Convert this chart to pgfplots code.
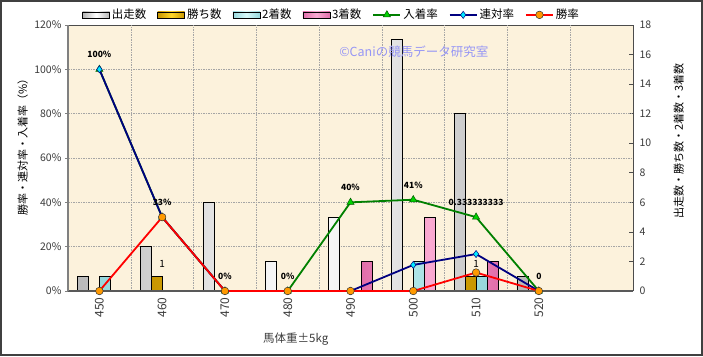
\documentclass[border=0pt]{standalone}
\usepackage{fontspec}
\setmainfont{Noto Sans CJK JP}
\usepackage{pgfplots}
\pgfplotsset{compat=1.18}
\definecolor{bgbeige}{RGB}{252,242,220}
\definecolor{gridgray}{RGB}{165,165,165}
\definecolor{spinegray}{RGB}{128,128,128}
\definecolor{golddark}{RGB}{200,150,0}
\definecolor{goldlight}{RGB}{255,215,40}
\definecolor{cyandark}{RGB}{150,215,220}
\definecolor{cyanlight}{RGB}{215,250,250}
\definecolor{pinkdark}{RGB}{225,110,170}
\definecolor{pinklight}{RGB}{250,170,210}
\definecolor{rategreen}{RGB}{0,128,0}
\definecolor{marklime}{RGB}{0,210,0}
\definecolor{ratenavy}{RGB}{0,0,128}
\definecolor{markcyan}{RGB}{0,235,255}
\definecolor{markorange}{RGB}{255,153,0}
\definecolor{wmark}{RGB}{150,150,245}
\definecolor{ticktext}{RGB}{60,60,60}
\begin{document}
\begin{tikzpicture}
\useasboundingbox (0,0) rectangle (703pt,356pt);
\fill[white] (0,0) rectangle (703pt,356pt);
% ---------- counts axis (right) with bars ----------
\begin{axis}[
  at={(68pt,65pt)}, anchor=south west,
  scale only axis, width=565pt, height=266pt,
  xmin=-0.5, xmax=8.5, ymin=0, ymax=18,
  axis background/.style={fill=bgbeige},
  axis x line*=top, axis y line*=right,
  x axis line style={black!70, line width=0.8pt, -},
  y axis line style={black!70, line width=0.8pt, -},
  xtick=\empty,
  extra x ticks={0.5,1.5,...,7.5},
  extra x tick labels={},
  extra x tick style={grid=major, major tick length=0pt},
  ytick={0,2,...,18},
  tick align=inside, major tick length=4pt,
  tick style={black!70, line width=0.6pt},
  extra y ticks={3,6,9,12,15},
  extra y tick labels={},
  extra y tick style={grid=major, major tick length=0pt},
  major grid style={gridgray, line width=0.5pt, dash pattern=on 1.5pt off 1pt},
  yticklabel style={font=\fontsize{10.5}{12}\selectfont, text=ticktext, xshift=3pt},
  /pgf/number format/assume math mode=true,
  ylabel={出走数・勝ち数・2着数・3着数},
  ylabel style={at={(axis description cs:1.081,0.565)}, anchor=center, font=\fontsize{11}{13}\selectfont},
  clip=false,
]
\addplot[ybar, bar width=0.175, bar shift=-0.2625, draw=black, line width=0.6pt,
  left color=gray!55, right color=gray!55, middle color=white]
  coordinates {(0,1) (1,3) (2,6) (3,2) (4,5) (5,17) (6,12) (7,1)};
\addplot[ybar, bar width=0.175, bar shift=-0.0875, draw=black, line width=0.6pt,
  left color=golddark, right color=golddark, middle color=goldlight,
  nodes near coords, every node near coord/.append style={font=\fontsize{10}{12}\selectfont, text=black, yshift=5pt}]
  coordinates {(1,1) (6,1)};
\addplot[ybar, bar width=0.175, bar shift=0.0875, draw=black, line width=0.6pt,
  left color=cyandark, right color=cyandark, middle color=cyanlight]
  coordinates {(0,1) (5,2) (6,1)};
\addplot[ybar, bar width=0.175, bar shift=0.2625, draw=black, line width=0.6pt,
  left color=pinkdark, right color=pinkdark, middle color=pinklight]
  coordinates {(4,2) (5,5) (6,2)};
\node[text=wmark, font=\fontsize{12.5}{14}\selectfont] at (rel axis cs:0.612,0.898) {©Caniの競馬データ研究室};
\end{axis}
% ---------- rate axis (left) with lines ----------
\begin{axis}[
  at={(68pt,65pt)}, anchor=south west,
  scale only axis, width=565pt, height=266pt,
  xmin=-0.5, xmax=8.5, ymin=0, ymax=120,
  axis x line*=bottom, axis y line*=left,
  x axis line style={black!65, line width=1.6pt, -},
  y axis line style={spinegray, line width=1.6pt, -},
  xtick={0,...,7},
  xticklabels={450,460,470,480,490,500,510,520},
  xtick style={draw=none},
  xticklabel style={rotate=90, anchor=east, font=\fontsize{12}{14}\selectfont, text=ticktext},
  ytick={0,20,...,120},
  yticklabel={\pgfmathprintnumber{\tick}\%},
  ytick style={spinegray, line width=0.6pt},
  tick align=outside, major tick length=3pt,
  yticklabel style={font=\fontsize{10.5}{12}\selectfont, text=ticktext},
  /pgf/number format/assume math mode=true,
  xlabel={馬体重±5kg},
  xlabel style={at={(axis description cs:0.403,-0.18)}, anchor=center, font=\fontsize{11.5}{13}\selectfont, text=ticktext},
  ylabel={勝率・連対率・入着率（\%）},
  ylabel style={at={(axis description cs:-0.08,0.55)}, anchor=center, font=\fontsize{11}{13}\selectfont},
  clip=false,
  legend columns=7,
  legend style={at={(axis description cs:0.025,1.038)}, anchor=west, draw=none, fill=none,
    font=\fontsize{11.5}{13}\selectfont, inner sep=0pt, column sep=0pt,
    nodes={inner xsep=2pt, inner ysep=1pt}},
  legend image code/.code={\draw[mark repeat=2,mark phase=2,#1] plot coordinates {(0pt,0pt) (13.5pt,0pt) (27pt,0pt)};},
]
\addlegendimage{legend image code/.code={\draw[black, line width=0.6pt, left color=gray!60, right color=gray!60, middle color=white] (0pt,-3pt) rectangle (27pt,3pt);}}
\addlegendentry{出走数\hspace*{9pt}}
\addlegendimage{legend image code/.code={\draw[black, line width=0.6pt, left color=golddark, right color=golddark, middle color=goldlight] (0pt,-3pt) rectangle (27pt,3pt);}}
\addlegendentry{勝ち数\hspace*{9pt}}
\addlegendimage{legend image code/.code={\draw[black, line width=0.6pt, left color=cyandark, right color=cyandark, middle color=cyanlight] (0pt,-3pt) rectangle (27pt,3pt);}}
\addlegendentry{2着数\hspace*{9pt}}
\addlegendimage{legend image code/.code={\draw[black, line width=0.6pt, left color=pinkdark, right color=pinkdark, middle color=pinklight] (0pt,-3pt) rectangle (27pt,3pt);}}
\addlegendentry{3着数\hspace*{9pt}}
\addplot[rategreen, line width=1.8pt, mark=triangle*, mark size=4.2pt,
  mark options={fill=marklime, draw=rategreen!70!black, line width=0.5pt},
  nodes near coords, point meta=explicit symbolic,
  every node near coord/.append style={font=\fontsize{8.5}{9}\selectfont\bfseries, text=black, yshift=8pt}]
  coordinates {(0,100)[100\%] (1,33.33)[33\%] (2,0)[0\%] (3,0)[0\%] (4,40)[40\%] (5,41.18)[41\%] (6,33.33)[0.333333333] (7,0)[0]};
\addlegendentry{入着率\hspace*{9pt}}
\addplot[ratenavy, line width=1.8pt, mark=diamond*, mark size=3.6pt,
  mark options={fill=markcyan, draw=ratenavy, line width=0.5pt}]
  coordinates {(0,100) (1,33.33) (2,0) (3,0) (4,0) (5,11.76) (6,16.67) (7,0)};
\addlegendentry{連対率\hspace*{9pt}}
\addplot[red, line width=1.8pt, mark=*, mark size=3.8pt,
  mark options={fill=markorange, draw=black!80, line width=0.5pt}]
  coordinates {(0,0) (1,33.33) (2,0) (3,0) (4,0) (5,0) (6,8.33) (7,0)};
\addlegendentry{勝率}
\end{axis}
\draw[black!75, line width=2pt] (1pt,1pt) rectangle (702pt,355pt);
\end{tikzpicture}
\end{document}
